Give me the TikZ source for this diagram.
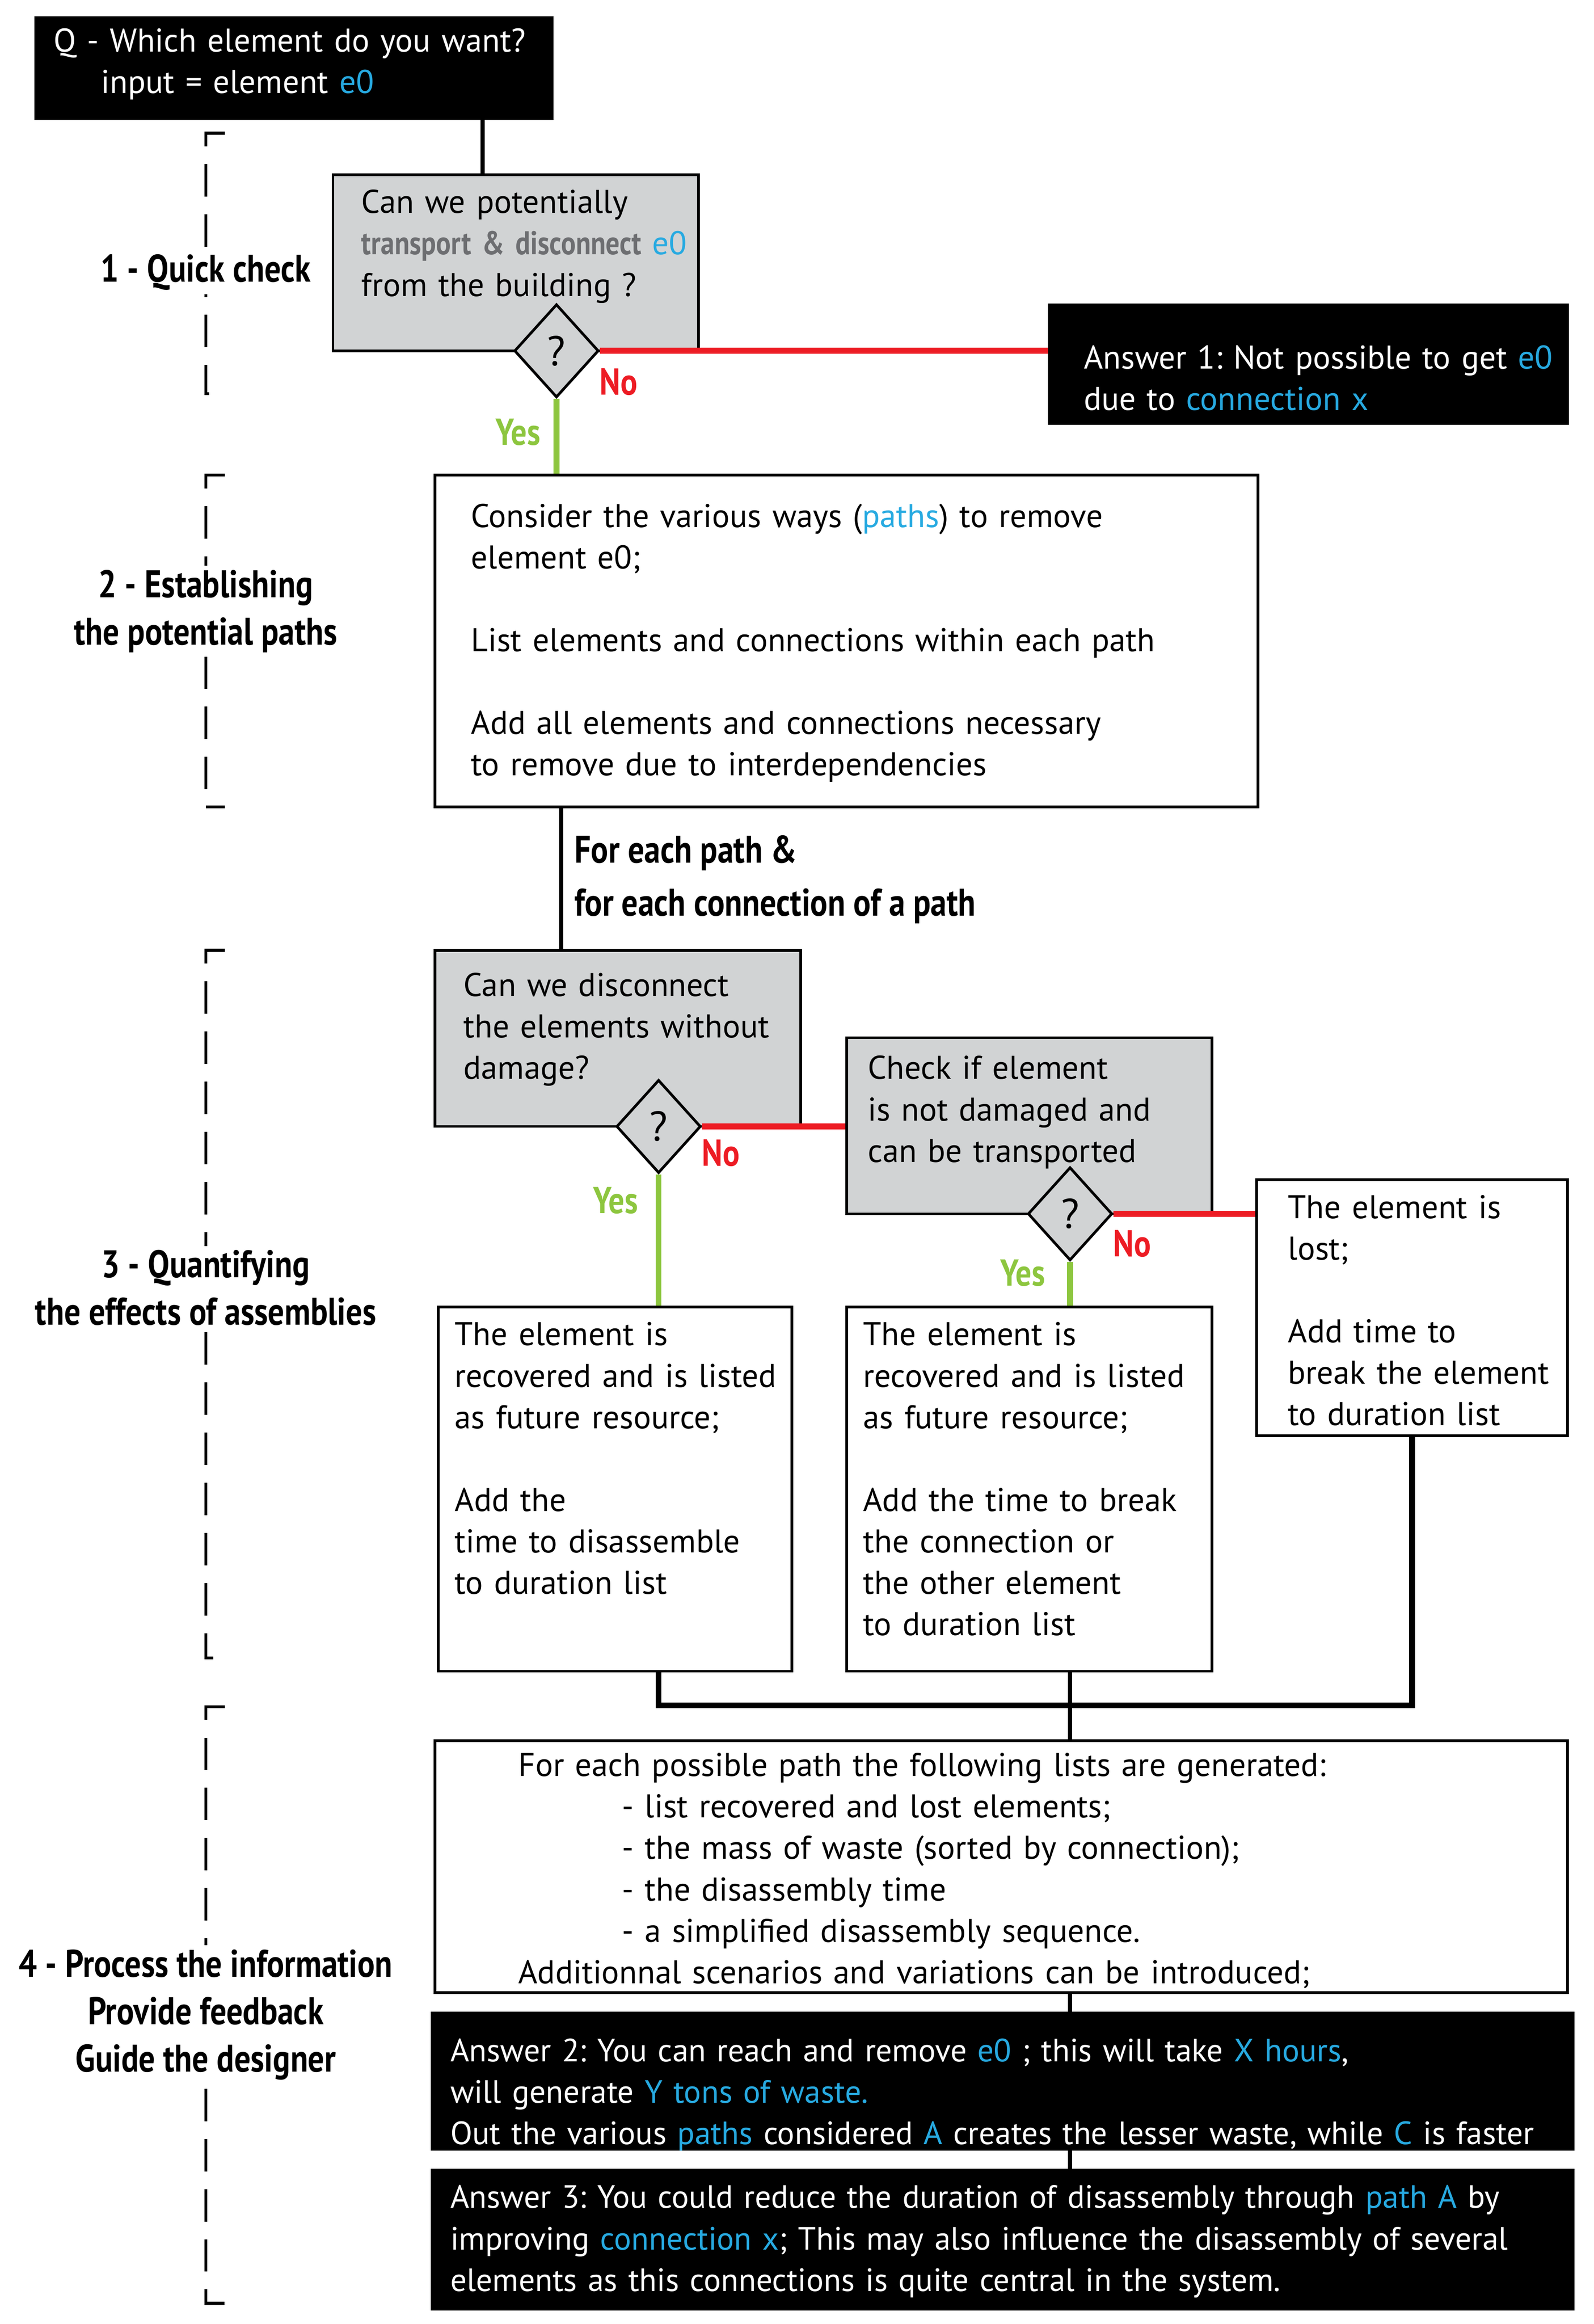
\documentclass[tikz,border=0pt]{standalone}
\usepackage{fontspec}
\setmainfont{PT Sans}
\newfontfamily\condfont{PT Sans}[FakeStretch=0.84]
\usetikzlibrary{shapes.geometric,fit}
\definecolor{eblue}{HTML}{27AAE1}
\definecolor{boxgray}{HTML}{D1D3D4}
\definecolor{txtgray}{HTML}{6D6E71}
\definecolor{nored}{HTML}{ED1C24}
\definecolor{yesgreen}{HTML}{8DC63F}
\newcommand{\hl}[1]{\textcolor{eblue}{#1}}
\frenchspacing

\begin{document}
\begin{tikzpicture}[x=0.25mm,y=-0.25mm,
    every node/.style={inner sep=0pt},
    whitebox/.style={draw, line width=1.3pt, fill=white, fit={#1}},
    graybox/.style={draw, line width=1.3pt, fill=boxgray, fit={#1}},
    blackbox/.style={draw, line width=1.3pt, fill=black, fit={#1}},
    decision/.style={diamond, draw, line width=1.3pt, fill=boxgray,
        minimum width=14.25mm, minimum height=15.75mm,
        font=\fontsize{20}{24}\selectfont},
    txt/.style={anchor=north west, align=left, text width=200mm,
        font=\fontsize{15.8}{19.9}\selectfont},
    wtxt/.style={txt, text=white},
    anstxt/.style={wtxt, font=\fontsize{15.5}{19.9}\selectfont},
    sect/.style={fill=white, align=center, inner sep=2pt,
        font=\condfont\bfseries\fontsize{18.5}{22.8}\selectfont},
    answer/.style={font=\condfont\bfseries\fontsize{18}{20}\selectfont},
    link/.style={line width=2pt},
    nolink/.style={line width=2.8pt, nored},
    yeslink/.style={line width=2.8pt, yesgreen},
    bracket/.style={line width=1.4pt, dash pattern=on 15.6pt off 8.5pt}
  ]
  \useasboundingbox (0,0) rectangle (1077,1570);

  % section brackets on the left
  \foreach \top/\bot in {90/266, 321/545, 642/1120, 1153/1556}
    \draw[bracket] (152,\top) -- (139,\top) -- (139,\bot) -- (152,\bot);
  \node[sect] (s1) at (139,184) {1 - Quick check};
  \node[sect] (s2) at (139,413) {2 - Establishing\\the potential paths};
  \node[sect] (s3) at (139,870) {3 - Quantifying\\the effects of assemblies};
  \node[sect] (s4) at (139,1361) {4 - Process the information\\Provide feedback\\Guide the designer};

  % boxes
  \node[blackbox={(24,12) (373,80)}] (want) {};
  \node[graybox={(225,118) (472,237)}] (quick) {};
  \node[blackbox={(709,206) (1059,286)}] (ans1) {};
  \node[whitebox={(294,321) (850,545)}] (paths) {};
  \node[graybox={(294,642) (541,761)}] (disc) {};
  \node[graybox={(572,701) (819,820)}] (check) {};
  \node[whitebox={(296,883) (535,1129)}] (rec1) {};
  \node[whitebox={(572,883) (819,1129)}] (rec2) {};
  \node[whitebox={(849,797) (1059,970)}] (lost) {};
  \node[whitebox={(294,1176) (1059,1346)}] (lists) {};
  \node[blackbox={(292,1360) (1063,1452)}] (ans2) {};
  \node[blackbox={(292,1466) (1063,1560)}] (ans3) {};

  % decisions
  \node[decision] (q1) at (376,237) {?};
  \node[decision] (q2) at (445,761) {?};
  \node[decision] (q3) at (723,820) {?};

  % connectors
  \draw[link] (want.south -| 326,0) -- (quick.north -| 326,0);
  \draw[nolink] (q1.east) -- (q1.east -| ans1.west);
  \draw[yeslink] (q1.south) -- (q1.south |- paths.north);
  \draw[link] (paths.south -| 379,0) -- (disc.north -| 379,0);
  \draw[nolink] (q2.east) -- (q2.east -| check.west);
  \draw[yeslink] (q2.south) -- (q2.south |- rec1.north);
  \draw[nolink] (q3.east) -- (q3.east -| lost.west);
  \draw[yeslink] (q3.south) -- (q3.south |- rec2.north);
  \coordinate (merge) at (723,1152);
  \draw[link, line width=2.8pt] (rec1.south -| q2.south) |- (merge) -| (lost.south);
  \draw[link] (rec2.south -| q3.south) -- (lists.north -| q3.south);
  \draw[link] (lists.south -| q3.south) -- (ans2.north -| q3.south);
  \draw[link] (ans2.south -| q3.south) -- (ans3.north -| q3.south);

  % yes / no
  \node[answer, text=nored] (n1) at (418,258) {No};
  \node[answer, text=yesgreen] (y1) at (350,292) {Yes};
  \node[answer, text=nored] (n2) at (487,779) {No};
  \node[answer, text=yesgreen] (y2) at (416,811) {Yes};
  \node[answer, text=nored] (n3) at (765,840) {No};
  \node[answer, text=yesgreen] (y3) at (691,860) {Yes};

  \node[anchor=north west, align=left, font=\condfont\bfseries\fontsize{18.5}{25.6}\selectfont]
    (each) at (388,564) {For each path \&\\for each connection of a path};

  % texts
  \node[wtxt] (twant) at (36,19) {Q - Which element do you want?\\
    \hspace*{8mm}input = element \hl{e0}};
  \node[txt] (tquick) at (244,128) {Can we potentially\\
    {\condfont\bfseries\color{txtgray}transport \& disconnect} \hl{e0}\\
    from the building ?};
  \node[wtxt] (tans1) at (732,233) {Answer 1: Not possible to get \hl{e0}\\
    due to \hl{connection x}};
  \node[txt] (tpaths) at (318,340) {Consider the various ways (\hl{paths}) to remove\\
    element e0;\\[\baselineskip]
    List elements and connections within each path\\[\baselineskip]
    Add all elements and connections necessary\\
    to remove due to interdependencies};
  \node[txt] (tdisc) at (313,657) {Can we disconnect\\the elements without\\damage?};
  \node[txt] (tcheck) at (586,713) {Check if element\\is not damaged and\\can be transported};
  \node[txt] (trec1) at (307,893) {The element is\\recovered and is listed\\as future resource;\\[\baselineskip]
    Add the\\time to disassemble\\to duration list};
  \node[txt] (trec2) at (583,893) {The element is\\recovered and is listed\\as future resource;\\[\baselineskip]
    Add the time to break\\the connection or\\the other element\\to duration list};
  \node[txt] (tlost) at (870,807) {The element is\\lost;\\[\baselineskip]
    Add time to\\break the element\\to duration list};
  \node[txt] (tlists) at (350,1184) {For each possible path the following lists are generated:\\
    \hspace*{17.5mm}- list recovered and lost elements;\\
    \hspace*{17.5mm}- the mass of waste (sorted by connection);\\
    \hspace*{17.5mm}- the disassembly time\\
    \hspace*{17.5mm}- a simplified disassembly sequence.\\
    Additionnal scenarios and variations can be introduced;};
  \node[anstxt] (tans2) at (304,1377) {Answer 2: You can reach and remove \hl{e0} ; this will take \hl{X hours},\\
    will generate \hl{Y tons of waste.}\\
    Out the various \hl{paths} considered \hl{A} creates the lesser waste, while \hl{C} is faster};
  \node[anstxt] (tans3) at (304,1476) {Answer 3: You could reduce the duration of disassembly through \hl{path A} by\\
    improving \hl{connection x}; This may also influence the disassembly of several\\
    elements as this connections is quite central in the system.};
\end{tikzpicture}
\end{document}
